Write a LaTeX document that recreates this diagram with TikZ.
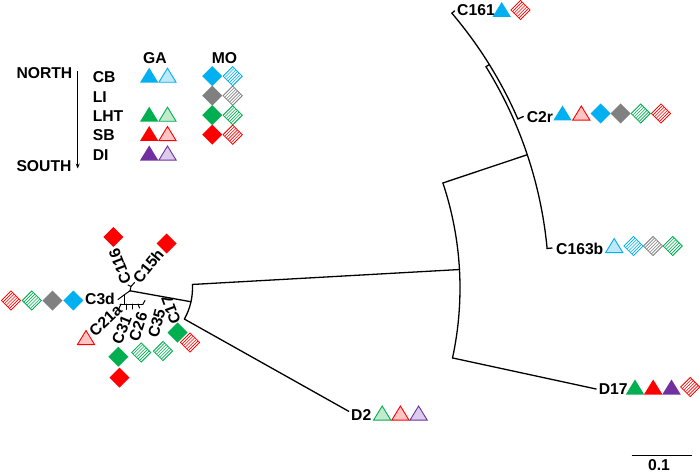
\documentclass[tikz,border=0pt]{standalone}
\usepackage{fontspec}
\setmainfont{Liberation Sans}
\usetikzlibrary{arrows.meta,calc}
\definecolor{cbF}{RGB}{0,176,240}
\definecolor{cbL}{RGB}{190,233,250}
\definecolor{liF}{RGB}{128,128,128}
\definecolor{ghF}{RGB}{0,176,80}
\definecolor{ghL}{RGB}{196,234,206}
\definecolor{sbF}{RGB}{255,0,0}
\definecolor{sbL}{RGB}{255,196,196}
\definecolor{diF}{RGB}{112,48,160}
\definecolor{diL}{RGB}{218,204,234}
% filled triangle: x, y, colour
\newcommand{\TriF}[3]{\fill[#3] (#1-9.2,#2+7.5) -- (#1+9.2,#2+7.5) -- (#1,#2-7.5) -- cycle;}
% light triangle: x, y, fill, outline
\newcommand{\TriL}[4]{\filldraw[fill=#3,draw=#4,line width=0.9pt,line join=miter] (#1-8.6,#2+7.1) -- (#1+8.6,#2+7.1) -- (#1,#2-7.0) -- cycle;}
% filled diamond
\newcommand{\DiaF}[3]{\fill[#3] (#1-10,#2) -- (#1,#2-10) -- (#1+10,#2) -- (#1,#2+10) -- cycle;}
% hatched diamond
\newcommand{\DiaH}[3]{%
  \begin{scope}
    \clip (#1-9.6,#2) -- (#1,#2-9.6) -- (#1+9.6,#2) -- (#1,#2+9.6) -- cycle;
    \foreach \hh in {-8.0,-6.4,...,8.1}{\draw[#3,line width=0.6pt] (#1+\hh-12,#2+\hh+12) -- (#1+\hh+12,#2+\hh-12);}
  \end{scope}
  \draw[#3,line width=0.8pt] (#1-9.6,#2) -- (#1,#2-9.6) -- (#1+9.6,#2) -- (#1,#2+9.6) -- cycle;}
\tikzset{
  lab/.style={font=\fontsize{15.7}{18}\selectfont\bfseries, inner sep=0pt},
  tree/.style={line width=1.3pt, line cap=round, line join=round},
  twig/.style={line width=1pt, line cap=round, line join=round}
}
\begin{document}
\begin{tikzpicture}[x=1pt,y=-1pt]
\useasboundingbox (0,0) rectangle (700,473);
\fill[white] (0,0) rectangle (700,473);

% ---------------- legend ----------------
\node[lab,anchor=west] (north) at (16.3,73) {NORTH};
\node[lab,anchor=west] (south) at (16.3,166) {SOUTH};
\coordinate (arT) at (77.7,71.5);
\coordinate (arB) at (77.7,168.5);
\draw[line width=0.9pt,-{Stealth[length=5pt,width=4pt]}] (arT) -- (arB);
\node[lab] (ga) at (155,58.3) {GA};
\node[lab] (mo) at (224.5,58.3) {MO};
\node[lab,anchor=west] (cb) at (92.6,77.2) {CB};
\node[lab,anchor=west] (li) at (92.6,96.7) {LI};
\node[lab,anchor=west] (lht) at (92.6,116.2) {LHT};
\node[lab,anchor=west] (sb) at (92.6,135.5) {SB};
\node[lab,anchor=west] (di) at (92.6,155) {DI};
\TriF{149.2}{75.2}{cbF}\TriL{167.5}{75.2}{cbL}{cbF}
\DiaF{212.2}{76.2}{cbF}\DiaH{232.7}{76.2}{cbF}
\DiaF{212.2}{95.7}{liF}\DiaH{232.7}{95.7}{liF}
\TriF{149.2}{114.2}{ghF}\TriL{167.5}{114.2}{ghL}{ghF}
\DiaF{212.2}{115.2}{ghF}\DiaH{232.7}{115.2}{ghF}
\TriF{149.2}{133.5}{sbF}\TriL{167.5}{133.5}{sbL}{sbF}
\DiaF{212.2}{134.7}{sbF}\DiaH{232.7}{134.7}{sbF}
\TriF{149.2}{153}{diF}\TriL{167.5}{153}{diL}{diF}

% ---------------- tree ----------------
\coordinate (O) at (129,288);
\coordinate (c0) at (130,290.8);
\coordinate (n1) at ($(O)+(12.5:63.5)$);
\draw[tree] (c0) -- (n1);
\coordinate (a1) at ($(O)+(-3.2:63.5)$);
\draw[tree] (a1) arc[start angle=-3.2, end angle=29.3, radius=63.5];
\coordinate (n2) at ($(O)+(-3.2:331)$);
\draw[tree] (a1) -- (n2);
\coordinate (d2a) at ($(O)+(29.3:63.5)$);
\coordinate (d2) at ($(O)+(29.3:252)$);
\draw[tree] (d2a) -- (d2);
\coordinate (b1) at ($(O)+(-18.5:331)$);
\draw[tree] (b1) arc[start angle=-18.5, end angle=12.2, radius=331];
\coordinate (n3) at ($(O)+(-18.5:420)$);
\draw[tree] (b1) -- (n3);
\coordinate (d17a) at ($(O)+(12.2:331)$);
\coordinate (d17) at ($(O)+(12.2:478)$);
\draw[tree] (d17a) -- (d17);
\coordinate (b2) at ($(O)+(-31.8:420)$);
\draw[tree] (b2) arc[start angle=-31.8, end angle=-5.4, radius=420];
\coordinate (n4) at ($(O)+(-31.8:424)$);
\draw[tree] (b2) -- (n4);
\coordinate (b3) at ($(O)+(-40.4:424)$);
\draw[tree] (b3) arc[start angle=-40.4, end angle=-23.5, radius=424];
\coordinate (c161) at ($(O)+(-40.4:427.5)$);
\draw[tree] (b3) -- (c161);
\coordinate (c2ra) at ($(O)+(-23.5:424)$);
\coordinate (c2r) at ($(O)+(-23.5:430)$);
\draw[tree] (c2ra) -- (c2r);
\coordinate (c163a) at ($(O)+(-5.4:420)$);
\coordinate (c163) at ($(O)+(-5.4:425)$);
\draw[tree] (c163a) -- (c163);

% central cluster twigs
\coordinate (cU) at (131,286.5);
\coordinate (t116) at (128,285);
\coordinate (t15h) at (134.5,282.5);
\coordinate (cL) at (124,295);
\coordinate (t3d) at (118,299.5);
\coordinate (cB) at (124,304);
\coordinate (cbl) at (120,304);
\coordinate (cbr) at (143,304);
\draw[twig] (c0) -- (cU) -- (t116);
\draw[twig] (cU) -- (t15h);
\draw[twig] (c0) -- (cL) -- (t3d);
\draw[twig] (cL) -- (cB);
\draw[twig] (cbl) -- (cbr);
\coordinate (k1) at (121,304); \coordinate (t21a) at (119,308.5);
\coordinate (k2) at (126,304); \coordinate (t31) at (126,309.5);
\coordinate (k3) at (132,304); \coordinate (t26) at (132,309);
\coordinate (k4) at (138,304); \coordinate (t35) at (139.5,308);
\coordinate (t17) at (145,300.5);
\draw[twig] (k1) -- (t21a);
\draw[twig] (k2) -- (t31);
\draw[twig] (k3) -- (t26);
\draw[twig] (k4) -- (t35);
\draw[twig] (cbr) -- (t17);

% ---------------- leaf labels and markers ----------------
\node[lab,anchor=west] (lC161) at (457,10.5) {C161};
\TriF{501.7}{9.5}{cbF}\DiaH{520.5}{10}{sbF}

\node[lab,anchor=west] (lC2r) at (526.6,116.7) {C2r};
\TriF{562.5}{113}{cbF}\TriL{581.3}{113}{sbL}{sbF}
\DiaF{600.7}{113.5}{cbF}\DiaF{620.7}{113.5}{liF}
\DiaH{640.7}{113.5}{ghF}\DiaH{661}{113.5}{sbF}

\node[lab,anchor=west] (lC163b) at (556,248.7) {C163b};
\TriL{614.2}{245.5}{cbL}{cbF}
\DiaH{633.5}{246}{cbF}\DiaH{653}{246}{liF}\DiaH{672.7}{246}{ghF}

\node[lab,anchor=west] (lD17) at (598.6,389.2) {D17};
\TriF{635}{387}{ghF}\TriF{653.2}{387}{sbF}\TriF{671.5}{387}{diF}
\DiaH{690.2}{387}{sbF}

\node[lab,anchor=west] (lD2) at (351,415.2) {D2};
\TriL{382.2}{413}{ghL}{ghF}\TriL{400.4}{413}{sbL}{sbF}\TriL{418.6}{413}{diL}{diF}

\node[lab] (lC3d) at (100,299) {C3d};
\DiaF{73.3}{300.5}{cbF}\DiaF{52.5}{300.5}{liF}\DiaH{31.8}{300.5}{ghF}\DiaH{11}{300.5}{sbF}

\node[lab,rotate=111] (lC116) at (120,266) {C116};
\DiaF{113.3}{237}{sbF}
\node[lab,rotate=50.5] (lC15h) at (148.3,266) {C15h};
\DiaF{166.7}{243.5}{sbF}
\node[lab,rotate=43] (lC21a) at (105.5,320.5) {C21a};
\TriL{86}{337.5}{sbL}{sbF}
\node[lab,rotate=68] (lC31) at (121.7,330) {C31};
\DiaF{118.3}{356.7}{ghF}\DiaF{119.5}{377.5}{sbF}
\node[lab,rotate=72] (lC26) at (138.3,326.7) {C26};
\DiaH{141.2}{352.5}{ghF}
\node[lab,rotate=75] (lC35) at (156.7,323.3) {C35};
\DiaH{163}{351}{ghF}
\node[lab,rotate=110] (lC17) at (171,310) {C17};
\DiaF{177.5}{332.5}{ghF}\DiaH{190}{342.5}{sbF}

% ---------------- scale bar ----------------
\coordinate (sbl) at (631.7,455.7);
\coordinate (sbr) at (691.7,455.7);
\draw[line width=1.3pt] (sbl) -- (sbr);
\node[lab] (sbt) at (659,465.5) {0.1};
\end{tikzpicture}
\end{document}
